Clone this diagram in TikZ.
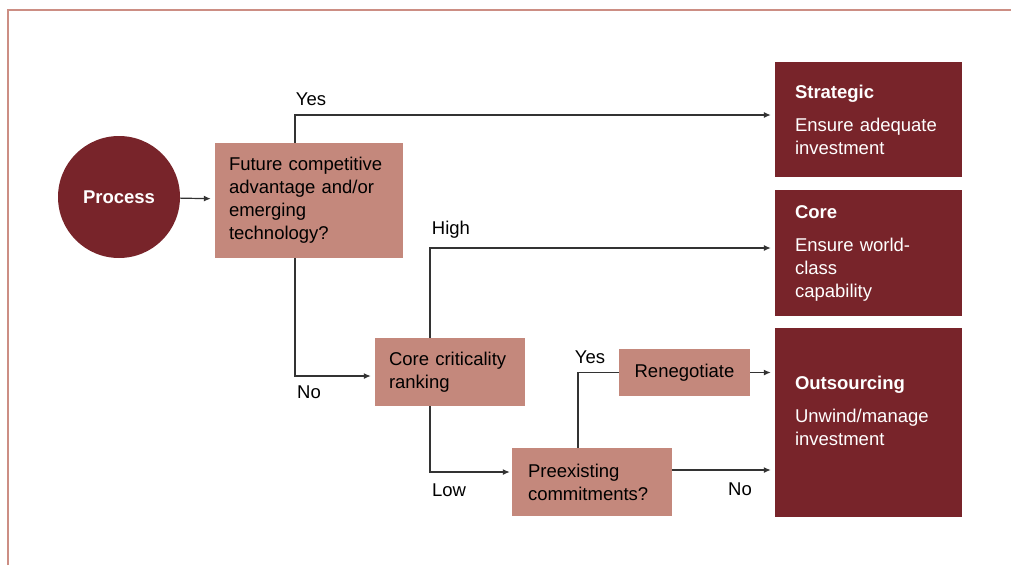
\documentclass[tikz,border=0pt]{standalone}
\usepackage{fontspec}
\setmainfont{Liberation Sans}
\usetikzlibrary{arrows.meta}
\definecolor{darkred}{HTML}{78242A}
\definecolor{lightred}{HTML}{C4887C}
\definecolor{framered}{HTML}{CC8E84}
\begin{document}
\begin{tikzpicture}[x=1pt,y=-1pt,
  every node/.style={font=\fontsize{18.5}{23}\selectfont},
  lightbox/.style={fill=lightred,align=left,inner ysep=0pt},
  darkbox/.style={fill=darkred,text=white,align=left,text width=147pt,inner xsep=20pt,inner ysep=0pt,minimum width=187pt},
  flow/.style={draw=black!80,line width=1.2pt,shorten >=4pt,-{Latex[length=7pt,width=6pt]}},
  link/.style={draw=black!80,line width=1.2pt}]
\useasboundingbox (0,0) rectangle (1011,565);
\draw[framered,line width=2.5pt] (8,565) -- (8,10) -- (1011,10);

% nodes
\node[circle,fill=darkred,text=white,minimum size=122pt,inner sep=0pt,font=\fontsize{18.5}{23}\selectfont\bfseries] (process) at (119,197) {Process};
\node[lightbox,text width=160pt,inner xsep=14pt,minimum height=115pt] (future) at (309,200.5) {Future competitive\\advantage and/or\\emerging\\technology?};
\node[lightbox,text width=122pt,inner xsep=14pt,minimum height=68pt] (crit) at (450,372) {Core criticality\\ranking};
\node[lightbox,align=center,minimum width=131pt,minimum height=47pt] (reneg) at (684.5,372.5) {Renegotiate};
\node[lightbox,text width=128pt,inner xsep=16pt,minimum height=68pt] (preex) at (592,482) {Preexisting\\commitments?};
\node[darkbox,minimum height=115pt] (strategic) at (868.5,119.5) {\textbf{Strategic}\\[10pt]Ensure adequate\\investment};
\node[darkbox,minimum height=126pt] (core) at (868.5,253) {\textbf{Core}\\[10pt]Ensure world-\\class\\capability};
\node[darkbox,minimum height=189pt] (outsrc) at (868.5,422.5) {\textbf{Outsourcing}\\[10pt]Unwind/manage\\investment\\\mbox{}};

% connectors
\coordinate (noout) at ([yshift=12pt]preex.east);
\draw[flow] (process) -- (future);
\draw[flow] ([xshift=-14pt]future.north) |- ([yshift=4.5pt]strategic.west);
\draw[flow] ([xshift=-14pt]future.south) |- ([yshift=-4pt]crit.west);
\draw[flow] ([xshift=-20pt]crit.north) |- ([yshift=5pt]core.west);
\draw[flow,shorten >=2pt] ([xshift=-20pt]crit.south) |- ([yshift=10pt]preex.west);
\draw[link] ([xshift=-14pt]preex.north) |- (reneg.west);
\draw[flow] (reneg.east) -- (outsrc.west |- reneg.east);
\draw[flow] (noout) -- (outsrc.west |- noout);

% labels
\node (yes1) at (311,99) {Yes};
\node (no1) at (309,392) {No};
\node (high) at (451,230) {High};
\node (low) at (449,490) {Low};
\node (yes2) at (590,357) {Yes};
\node (no2) at (740,489) {No};
\end{tikzpicture}
\end{document}
